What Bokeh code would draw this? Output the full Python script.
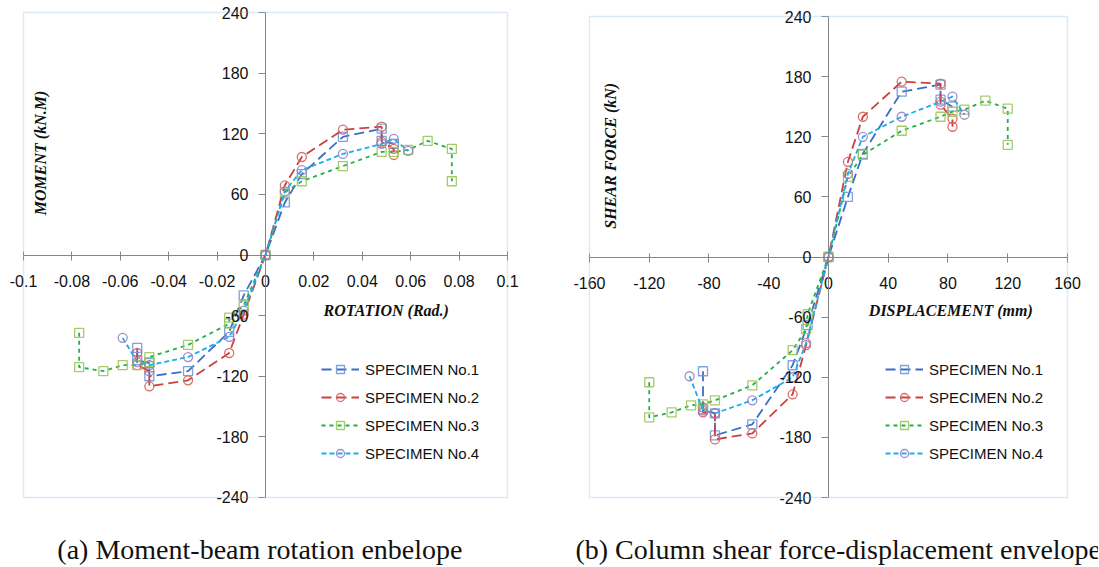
import math
from bokeh.plotting import figure
from bokeh.models import (Range1d, LinearAxis, FixedTicker, Label, Legend, LegendItem,
                          BoxAnnotation)
from bokeh.layouts import row
from bokeh.embed import file_html
from bokeh.resources import INLINE

# ---------------- data : panel (a) moment - rotation ----------------
rot_ticks = [-0.1, -0.08, -0.06, -0.04, -0.02, 0, 0.02, 0.04, 0.06, 0.08, 0.1]
rot_tick_labels = ["-0.1", "-0.08", "-0.06", "-0.04", "-0.02", "0", "0.02", "0.04", "0.06", "0.08", "0.1"]
mom_ticks = [-240, -180, -120, -60, 0, 60, 120, 180, 240]
mom_tick_labels = ["-240", "-180", "-120", "-60", "0", "60", "120", "180", "240"]

a1_rot = [-0.053, -0.053, -0.048, -0.048, -0.032, -0.015, -0.009, 0, 0.008, 0.015, 0.032, 0.048, 0.048, 0.053]
a1_mom = [-92, -104, -107, -120, -115, -76, -40, 0, 52, 80, 117, 125, 113, 110]
a2_rot = [-0.053, -0.053, -0.048, -0.048, -0.032, -0.015, -0.009, 0, 0.008, 0.015, 0.032, 0.048, 0.048, 0.053, 0.053]
a2_mom = [-97, -109, -115, -130, -124, -97, -59, 0, 69, 97, 124, 127, 112, 105, 99]
a3_rot = [-0.077, -0.077, -0.067, -0.059, -0.053, -0.048, -0.048, -0.032, -0.015, -0.015, -0.009, 0,
          0.008, 0.015, 0.032, 0.048, 0.053, 0.059, 0.067, 0.077, 0.077]
a3_mom = [-77, -111, -115, -109, -109, -106, -101, -89, -68, -62, -50, 0,
          62, 73, 88, 102, 102, 104, 113, 105, 73]
a4_rot = [-0.059, -0.053, -0.048, -0.032, -0.015, -0.009, 0, 0.008, 0.015, 0.032, 0.048, 0.053, 0.059]
a4_mom = [-82, -106, -109, -101, -81, -55, 0, 63, 84, 100, 110, 115, 103]

# ---------------- data : panel (b) shear force - displacement ----------------
disp_ticks = [-160, -120, -80, -40, 0, 40, 80, 120, 160]
disp_tick_labels = ["-160", "-120", "-80", "-40", "0", "40", "80", "120", "160"]
shear_ticks = [-240, -180, -120, -60, 0, 60, 120, 180, 240]
shear_tick_labels = ["-240", "-180", "-120", "-60", "0", "60", "120", "180", "240"]

b1_disp = [-84, -84, -76, -76, -51, -24, -14, 0, 13, 23, 49, 75, 75, 83]
b1_force = [-114, -152, -156, -178, -167, -108, -68, 0, 60, 103, 165, 172, 157, 150]
b2_disp = [-84, -84, -76, -76, -51, -24, -15, 0, 13, 23, 49, 75, 75, 83, 83]
b2_force = [-150, -155, -156, -182, -176, -137, -88, 0, 95, 140, 175, 173, 152, 138, 130]
b3_disp = [-120, -120, -105, -92, -84, -76, -51, -24, -15, -14, 0, 13, 23, 49, 75, 83, 91, 105, 120, 120]
b3_force = [-125, -160, -155, -148, -147, -143, -128, -93, -72, -57, 0, 80, 102, 126, 140, 145, 147, 156, 148, 112]
b4_disp = [-93, -84, -76, -51, -24, -15, 0, 13, 23, 49, 75, 83, 91]
b4_force = [-119, -153, -156, -143, -120, -86, 0, 83, 120, 140, 155, 160, 142]

names = ["SPECIMEN No.1", "SPECIMEN No.2", "SPECIMEN No.3", "SPECIMEN No.4"]

# ---------------- styles ----------------
LINE_COLORS = ["#3D6DC2", "#C9423E", "#22B04C", "#1AAFEA"]
MARK_COLORS = ["#6F98D8", "#D4625C", "#9DC55C", "#9A80C2"]
DASHES = ["10 5", "10 5", "4 4", "5 3"]
MARKERS = ["square", "circle", "square", "circle"]
AXIS_COLOR = "#868686"
FRAME_COLOR = "#8EB4E3"
TICK_FONT = "Liberation Sans"
TITLE_FONT = "Liberation Serif"


def make_panel(width, height, view_x, view_y, xr, yr, xticks, xlabels, yticks, ylabels, series,
               xtitle, xtitle_pos, ytitle, ytitle_pos, caption, caption_pos, legend_pos):
    p = figure(width=width, height=height, min_border=0,
               min_border_left=0, min_border_right=0, min_border_top=0, min_border_bottom=0,
               x_range=Range1d(*view_x), y_range=Range1d(*view_y),
               x_axis_type=None, y_axis_type=None, title=None,
               output_backend="svg", toolbar_location=None)
    p.outline_line_color = None
    p.xgrid.visible = False
    p.ygrid.visible = False
    p.background_fill_color = "white"
    p.border_fill_color = "white"

    # plot-area border
    p.add_layout(BoxAnnotation(left=xr[0], right=xr[1], bottom=yr[0], top=yr[1],
                               fill_alpha=0, line_color=FRAME_COLOR, line_width=1.4))

    xa = LinearAxis(fixed_location=0, ticker=FixedTicker(ticks=xticks), bounds=xr)
    xa.major_label_overrides = dict(zip(xticks, xlabels))
    xa.axis_line_color = AXIS_COLOR
    xa.major_tick_line_color = AXIS_COLOR
    xa.major_tick_in = 4
    xa.major_tick_out = 5
    xa.minor_tick_line_color = None
    xa.major_label_standoff = 15
    xa.major_label_text_font = TICK_FONT
    xa.major_label_text_font_size = "16px"
    xa.major_label_text_color = "#111111"
    p.add_layout(xa, "below")

    ya = LinearAxis(fixed_location=0, ticker=FixedTicker(ticks=yticks), bounds=yr)
    ya.major_label_overrides = dict(zip(yticks, ylabels))
    ya.axis_line_color = AXIS_COLOR
    ya.major_tick_line_color = AXIS_COLOR
    ya.major_tick_in = 0
    ya.major_tick_out = 7
    ya.minor_tick_line_color = None
    ya.major_label_standoff = 10
    ya.major_label_text_font = TICK_FONT
    ya.major_label_text_font_size = "16px"
    ya.major_label_text_color = "#111111"
    p.add_layout(ya, "left")

    items = []
    for i, (xs, ys) in enumerate(series):
        lr = p.line(xs, ys, line_color=LINE_COLORS[i], line_width=1.8, line_dash=DASHES[i])
        sr = p.scatter(xs, ys, marker=MARKERS[i], size=9, fill_color=None,
                       line_color=MARK_COLORS[i], line_width=1.3, line_alpha=0.9)
        items.append(LegendItem(label=names[i], renderers=[lr, sr]))

    leg = Legend(items=items, location=legend_pos, orientation="vertical")
    leg.label_text_font = TICK_FONT
    leg.label_text_font_size = "15px"
    leg.label_text_color = "#111111"
    leg.glyph_width = 38
    leg.glyph_height = 20
    leg.label_height = 20
    leg.spacing = 8
    leg.padding = 10
    leg.label_standoff = 6
    leg.border_line_alpha = 0
    leg.background_fill_alpha = 0
    p.add_layout(leg, "center")

    p.add_layout(Label(x=xtitle_pos[0], y=xtitle_pos[1], text=xtitle, text_font=TITLE_FONT,
                       text_font_style="bold italic", text_font_size="16px",
                       text_align="left", text_baseline="middle", text_color="#111111"))
    p.add_layout(Label(x=ytitle_pos[0], y=ytitle_pos[1], text=ytitle, text_font=TITLE_FONT,
                       text_font_style="bold italic", text_font_size="16px", angle=math.pi / 2,
                       text_align="center", text_baseline="middle", text_color="#111111"))
    p.add_layout(Label(x=caption_pos[0], y=caption_pos[1], text=caption, text_font=TITLE_FONT,
                       text_font_size="28px", text_align="left", text_baseline="middle",
                       text_color="#111111"))
    return p


pa = make_panel(560, 567, (-0.1095, 0.1219), (-309.3, 251.9), (-0.1, 0.1), (-240, 240),
                rot_ticks, rot_tick_labels, mom_ticks, mom_tick_labels,
                [(a1_rot, a1_mom), (a2_rot, a2_mom), (a3_rot, a3_mom), (a4_rot, a4_mom)],
                "ROTATION (Rad.)", (0.024, -55),
                "MOMENT  (kN.M)", (-0.093, 103),
                "(a) Moment-beam rotation enbelope", (-0.0860, -291.5),
                (311, 94))

pb = make_panel(538, 567, (-179.4, 180.75), (-309.85, 256.0), (-160, 160), (-240, 240),
                disp_ticks, disp_tick_labels, shear_ticks, shear_tick_labels,
                [(b1_disp, b1_force), (b2_disp, b2_force), (b3_disp, b3_force), (b4_disp, b4_force)],
                "DISPLACEMENT (mm)", (27, -53),
                "SHEAR FORCE  (kN)", (-146, 103),
                "(b) Column shear force-displacement envelope", (-169.4, -292),
                (315, 94))

layout = row(pa, pb)
open("out.html", "w").write(file_html(layout, INLINE))
